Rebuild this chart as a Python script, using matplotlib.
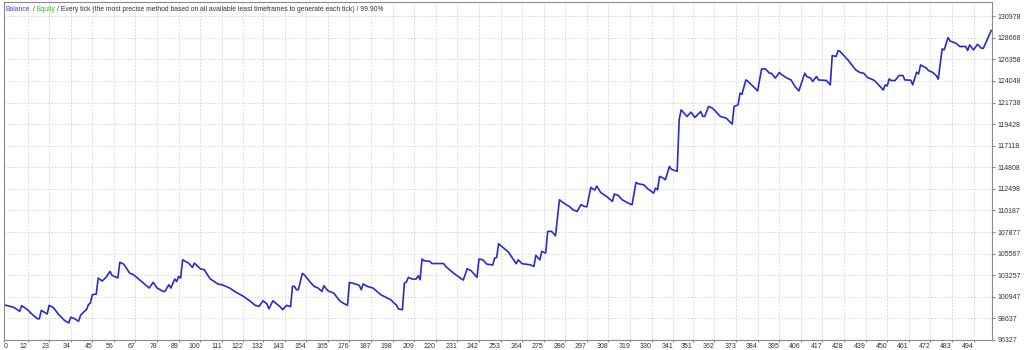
import matplotlib
matplotlib.use("Agg")
import matplotlib.pyplot as plt

# deal number / balance
deals = [0, 5, 8, 9, 12, 14, 17, 18, 19, 22, 23, 25, 28, 31, 33, 34, 36, 38, 39, 41,
         42, 43, 44, 45, 47, 48, 50, 52, 54, 55, 58, 59, 61, 64, 66, 74, 76, 78, 81, 82,
         84, 85, 87, 88, 89, 90, 91, 94, 96, 97, 100, 102, 105, 109, 111, 115, 118, 122, 126, 128,
         130, 132, 134, 135, 137, 139, 141, 142, 144, 146, 147, 148, 149, 150, 152, 153, 156, 158, 160, 162,
         163, 165, 168, 171, 173, 175, 176, 179, 181, 182, 183, 185, 188, 192, 197, 200, 201, 203, 204, 205,
         206, 208, 210, 211, 212, 213, 214, 217, 218, 224, 225, 229, 232, 234, 236, 238, 241, 242, 244, 246,
         249, 250, 251, 252, 257, 261, 262, 264, 268, 270, 271, 273, 274, 276, 277, 279, 281, 283, 284, 287,
         288, 290, 292, 294, 296, 297, 299, 301, 302, 304, 307, 310, 311, 313, 315, 318, 320, 322, 323, 326,
         328, 331, 332, 333, 334, 336, 337, 339, 340, 343, 344, 345, 348, 350, 352, 353, 355, 356, 357, 359,
         361, 365, 368, 371, 372, 374, 375, 376, 378, 379, 384, 386, 388, 390, 391, 393, 395, 396, 399, 401,
         403, 405, 408, 409, 411, 412, 414, 415, 419, 421, 422, 424, 425, 426, 430, 434, 436, 438, 440, 443,
         444, 448, 449, 450, 451, 452, 454, 456, 458, 459, 462, 463, 465, 466, 467, 470, 471, 473, 475, 476,
         478, 479, 481, 482, 485, 487, 490, 491, 492, 494, 496, 498, 499, 503]
balance = [100100, 99820, 99400, 100000, 99570, 99140, 98600, 98600, 99500, 99110,
           100040, 99820, 99030, 98390, 98150, 98760, 98600, 98330, 98970, 99400,
           99570, 100100, 100280, 101170, 101250, 102960, 102640, 103030, 103670, 103250,
           102960, 104640, 104450, 103490, 103310, 101890, 102500, 101890, 101530, 101530,
           102240, 101890, 102850, 102600, 103140, 102960, 104910, 104560, 104100, 104560,
           103950, 103850, 102880, 102320, 102240, 101890, 101460, 101000, 100390, 100040,
           99930, 100530, 100180, 99670, 100530, 100180, 99820, 99570, 100040, 99890,
           102070, 102070, 101710, 101710, 103460, 103310, 102530, 102070, 101890, 101530,
           102130, 101600, 101350, 100530, 100250, 100040, 102500, 102320, 102180, 101710,
           102320, 102070, 101890, 101170, 100640, 100040, 99640, 99570, 102420, 102530,
           103030, 102850, 102850, 103200, 102780, 104990, 104810, 104740, 104510, 104510,
           104210, 103490, 103030, 102740, 103950, 103740, 103030, 104990, 104910, 104450,
           104350, 105100, 105150, 106630, 105740, 104490, 104910, 104490, 104380, 104210,
           105390, 104910, 105810, 105630, 107950, 107950, 107480, 111330, 111160, 110730,
           110630, 110260, 110090, 110820, 110600, 110590, 112660, 112370, 112800, 112120,
           111690, 111160, 111940, 111800, 111330, 110980, 110800, 113190, 113060, 112930,
           112510, 112050, 112580, 112400, 113830, 113650, 113470, 114900, 114610, 114370,
           119890, 120960, 120250, 120710, 120140, 120360, 120780, 120280, 120250, 121320,
           121140, 120250, 120070, 119430, 121320, 121490, 122740, 122630, 124160, 124020,
           122990, 125340, 125340, 124880, 124880, 124350, 124960, 124770, 124350, 124160,
           123460, 122990, 124880, 124530, 124350, 123990, 124530, 124160, 124100, 123630,
           126770, 126670, 127310, 127200, 126300, 125230, 124960, 124880, 124420, 124160,
           123990, 123090, 123630, 123520, 124270, 124100, 124100, 124630, 124630, 124160,
           124130, 123630, 124990, 124810, 125770, 125420, 125170, 124990, 124630, 124240,
           127480, 127370, 128700, 128330, 128090, 127740, 127740, 127310, 127910, 127370,
           127980, 127550, 127550, 129450]

x_ticks = [0, 12, 23, 34, 45, 56, 67, 78, 89, 100, 111, 122, 132, 143, 154, 165, 176, 187,
           198, 209, 220, 231, 242, 253, 264, 275, 286, 297, 308, 319, 330, 341, 351, 362,
           373, 384, 395, 406, 417, 428, 439, 450, 461, 472, 483, 494]
y_ticks = [96327, 98637, 100947, 103257, 105567, 107877, 110187, 112498, 114808,
           117118, 119428, 121738, 124048, 126358, 128668, 130978]

fnt = 'Liberation Sans'

fig = plt.figure(figsize=(10.24, 3.5), dpi=100)
ax = fig.add_axes([4 / 1024, 10 / 350, 988 / 1024, 338 / 350])

ax.plot(deals, balance, color='#2b2bcc', linewidth=1.2)

ax.set_xlim(0, 503.4)
ax.set_ylim(96327, 132500)

ax.set_xticks(x_ticks)
ax.set_xticklabels([str(t) for t in x_ticks], fontsize=5, family=fnt, color='#333333')
for i, lab in enumerate(ax.get_xticklabels()):
    lab.set_ha('left' if i == 0 else 'right')

ax.yaxis.tick_right()
ax.set_yticks(y_ticks)
ax.set_yticklabels([str(t) for t in y_ticks], fontsize=5, family=fnt, color='#333333')

ax.tick_params(axis='x', length=1.5, pad=0.5, color='#888888')
ax.tick_params(axis='y', length=2, pad=2, color='#888888')

ax.grid(True, color='#d4d4d4', linestyle=(0, (2, 2)), linewidth=0.6)
for s in ax.spines.values():
    s.set_color('#8a8a8a')
    s.set_linewidth(0.8)

# header text, MT4 style (pieces chained so each keeps its colour)
hdr = dict(fontsize=4.9, family=fnt, va='bottom', textcoords='offset points', xytext=(1.5, 0))
t1 = ax.text(0.002, 0.988, 'Balance', transform=ax.transAxes, fontsize=4.9,
             family=fnt, color='#4a4ad0', va='top', ha='left')
t2 = ax.annotate('/', xy=(1, 0), xycoords=t1, color='#333333', **hdr)
t3 = ax.annotate('Equity', xy=(1, 0), xycoords=t2, color='#33bb33', **hdr)
t4 = ax.annotate('/', xy=(1, 0), xycoords=t3, color='#333333', **hdr)
ax.annotate('Every tick (the most precise method based on all available least timeframes to generate each tick) / 99.90%',
            xy=(1, 0), xycoords=t4, color='#333333', **hdr)

fig.savefig('out.png', dpi=100)
